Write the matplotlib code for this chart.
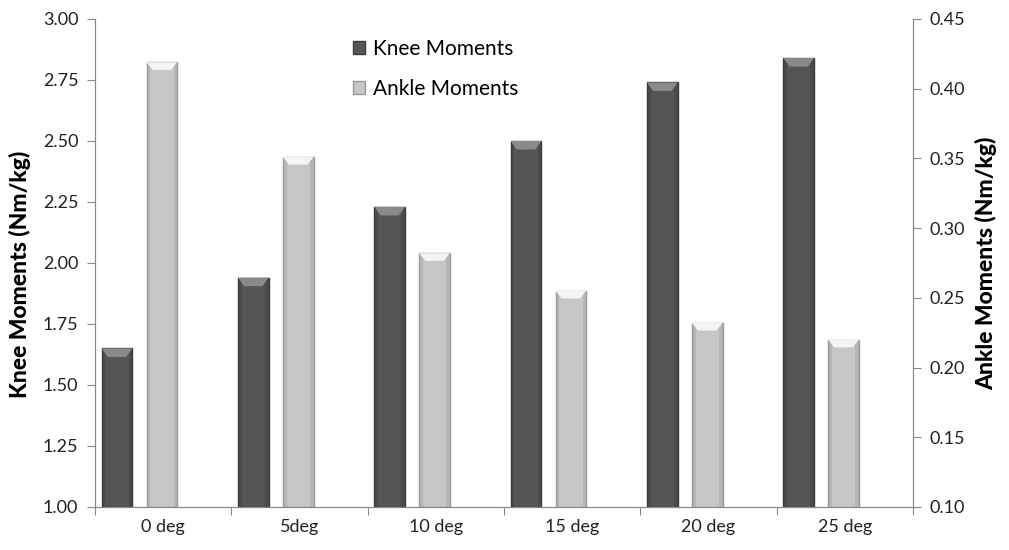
import numpy as np
import matplotlib
matplotlib.use("Agg")
import matplotlib.pyplot as plt
from matplotlib.patches import Polygon, Rectangle

plt.rcParams['font.family'] = ['Lato', 'DejaVu Sans']

categories = ['0 deg', '5deg', '10 deg', '15 deg', '20 deg', '25 deg']
knee = [1.65, 1.94, 2.23, 2.50, 2.74, 2.84]
ankle = [0.419, 0.351, 0.282, 0.255, 0.232, 0.220]

knee_col = '#555555'
ankle_col = '#c6c6c6'


def bevel_bars(ax, xs, vals, base, width, col, top_col, edge_col, bev_h):
    bars = ax.bar(xs, np.array(vals) - base, width, bottom=base, color=col,
                  edgecolor=edge_col, linewidth=1.0, zorder=2)
    for x, v in zip(xs, vals):
        # darker side strips
        sw = width * 0.12
        ax.add_patch(Rectangle((x - width / 2, base), sw, v - base,
                               color=edge_col, alpha=0.35, lw=0, zorder=3))
        ax.add_patch(Rectangle((x + width / 2 - sw, base), sw, v - base,
                               color=edge_col, alpha=0.35, lw=0, zorder=3))
        # bevelled top
        inset = width * 0.2
        pts = [(x - width / 2, v), (x + width / 2, v),
               (x + width / 2 - inset, v - bev_h), (x - width / 2 + inset, v - bev_h)]
        ax.add_patch(Polygon(pts, closed=True, color=top_col, lw=0, zorder=4))
    return bars


fig = plt.figure(figsize=(10.09, 5.5), dpi=100)
ax = fig.add_axes([0.0942, 0.0782, 0.8107, 0.8873])
ax2 = ax.twinx()

x = np.arange(len(categories))
w = 0.225
kx = x - 0.5 + 0.161
axx = x - 0.5 + 0.49

b1 = bevel_bars(ax, kx, knee, 1.0, w, knee_col, '#8a8a8a', '#3a3a3a', 0.035)
b2 = bevel_bars(ax2, axx, ankle, 0.10, w, ankle_col, '#f4f4f4', '#9a9a9a', 0.0055)

ax.set_xlim(-0.5, len(categories) - 0.5)
ax.set_ylim(1.0, 3.0)
ax2.set_ylim(0.10, 0.45)
ax.set_yticks(np.arange(1.0, 3.01, 0.25))
ax.set_yticklabels(['%.2f' % t for t in np.arange(1.0, 3.01, 0.25)])
ax2.set_yticks(np.arange(0.10, 0.451, 0.05))
ax2.set_yticklabels(['%.2f' % t for t in np.arange(0.10, 0.451, 0.05)])

ax.set_xticks(np.arange(-0.5, len(categories), 1.0))
ax.set_xticklabels([])
ax.set_xticks(x, minor=True)
ax.set_xticklabels(categories, minor=True)
ax.tick_params(axis='x', which='minor', length=0, pad=9, labelsize=13, labelcolor='#222222')
ax.tick_params(axis='x', which='major', length=6, color='#888888')
ax.tick_params(axis='y', length=6, color='#888888', labelsize=13, labelcolor='#222222', pad=6)
ax2.tick_params(axis='y', length=6, color='#888888', labelsize=13, labelcolor='#222222', pad=6)

for a in (ax, ax2):
    a.spines['top'].set_visible(False)
    for s in ('left', 'right', 'bottom'):
        a.spines[s].set_color('#888888')

ax.set_ylabel('Knee Moments (Nm/kg)', fontsize=16.5, fontweight='black')
ax.yaxis.set_label_coords(-0.078, 0.477)
ax2.set_ylabel('Ankle Moments (Nm/kg)', fontsize=16.5, fontweight='black', labelpad=7)

ax2.legend([b1, b2], ['Knee Moments', 'Ankle Moments'], loc='upper left',
           bbox_to_anchor=(0.292, 0.997), frameon=False, fontsize=15,
           handlelength=0.6, handleheight=0.6, handletextpad=0.4, labelspacing=0.95)

fig.savefig('out.png', dpi=100)
